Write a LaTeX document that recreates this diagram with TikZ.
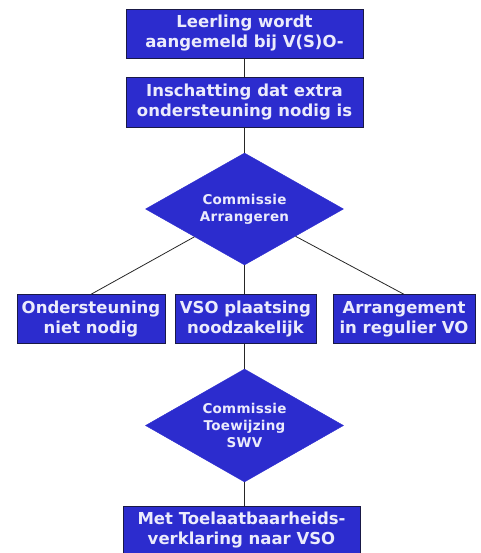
\documentclass[tikz,border=0pt]{standalone}
\usepackage{fontspec}
\newfontfamily\boxfont{DejaVu Sans}
\newfontfamily\diafont{DejaVu Sans}[LetterSpace=2]
\usetikzlibrary{shapes.geometric}
\definecolor{flowblue}{RGB}{44,44,206}
\definecolor{flowedge}{RGB}{25,25,70}
\definecolor{flowtext}{RGB}{235,235,252}

\begin{document}
\begin{tikzpicture}[x = 1pt, y = -1pt,
    box/.style = {rectangle, draw = flowedge, fill = flowblue, text = flowtext,
      align = center, inner sep = 0pt, minimum height = 49pt,
      font = \boxfont\bfseries\fontsize{16.5}{20}\selectfont},
    choice/.style = {diamond, draw = flowblue, fill = flowblue, text = flowtext,
      align = center, inner sep = 0pt, aspect = 1.77,
      minimum width = 198pt, minimum height = 112pt,
      font = \diafont\bfseries\fontsize{13.5}{17}\selectfont},
    link/.style = {draw = black!85, line width = .8pt}]
  \useasboundingbox (0,0) rectangle (480,553);
  \clip (0,0) rectangle (480,553);
  \node (aanmelding)  at (244.5,33.5) [box, minimum width = 237pt] {Leerling wordt\\aangemeld bij V(S)O-};
  \node (inschatting) at (244.5,102)  [box, minimum width = 237pt, minimum height = 50pt] {Inschatting dat extra\\ondersteuning nodig is};
  \node (arrangeren)  at (244.5,209)  [choice] {Commissie\\Arrangeren};
  \node (nietnodig)   at (91,319)     [box, minimum width = 148pt] {Ondersteuning\\niet nodig};
  \node (vso)         at (245.5,319)  [box, minimum width = 141pt] {VSO plaatsing\\noodzakelijk};
  \node (regulier)    at (404,319)    [box, minimum width = 142pt] {Arrangement\\in regulier VO};
  \node (toewijzing)  at (244.5,425.5) [choice, minimum height = 113pt] {Commissie\\Toewijzing\\SWV};
  \node (verklaring)  at (241.5,530.5) [box, minimum width = 237pt] {Met Toelaatbaarheids-\\verklaring naar VSO};
  \path [link] (aanmelding) -- (inschatting);
  \path [link] (inschatting) -- (arrangeren);
  \path [link] (arrangeren) -- (nietnodig.north);
  \path [link] (arrangeren) -- (arrangeren |- vso.north);
  \path [link] (arrangeren) -- (regulier.north);
  \path [link] (vso.south -| toewijzing) -- (toewijzing);
  \path [link] (toewijzing) -- (toewijzing |- verklaring.north);
\end{tikzpicture}
\end{document}
